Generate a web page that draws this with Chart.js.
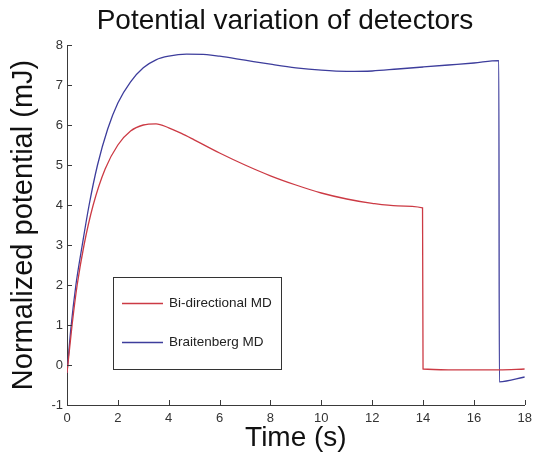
<!DOCTYPE html>
<html>
<head>
<meta charset="utf-8">
<script src="https://cdn.jsdelivr.net/npm/chart.js@4/dist/chart.umd.min.js"></script>
<style>
  html, body { margin: 0; padding: 0; background: #fff; }
</style>
</head>
<body>
<canvas id="resultado" width="538" height="461"></canvas>
<script>
// datos
const titulo = 'Potential variation of detectors'
const tituloX = 'Time (s)'
const tituloY = 'Normalized potential (mJ)'

const nombres = ['Bi-directional MD', 'Braitenberg MD']

const tiempoBi = [0, 0.2, 0.4, 0.67, 1.03, 1.5, 2, 2.5, 3, 3.5, 4, 4.5, 5, 6, 7, 8, 9, 10, 11, 12, 13, 13.98, 14, 15, 16, 17, 18]
const valoresBi = [-0.2, 1.0, 2.0, 3.0, 4.0, 4.9, 5.5, 5.85, 6.0, 6.03, 5.93, 5.79, 5.63, 5.3, 5.0, 4.73, 4.5, 4.3, 4.15, 4.04, 3.98, 3.93, -0.1, -0.12, -0.12, -0.12, -0.1]

const tiempoBr = [0, 0.15, 0.35, 0.6, 0.87, 1.2, 1.6, 2, 2.5, 3, 3.5, 4, 4.7, 5.5, 6, 7, 8, 9, 10, 11, 12, 13, 14, 15, 16, 16.98, 17, 18]
const valoresBr = [-0.2, 0.9, 2.0, 3.0, 4.0, 5.0, 5.9, 6.55, 7.08, 7.43, 7.63, 7.72, 7.77, 7.76, 7.72, 7.62, 7.52, 7.43, 7.37, 7.34, 7.35, 7.4, 7.45, 7.5, 7.55, 7.61, -0.42, -0.3]

const colores = ['#cc3a44', '#3d3d9c']

const fuente = '"Liberation Sans", Arial, sans-serif'

function puntos(t, v) {
  return t.map((x, i) => ({x: x, y: v[i]}))
}

const tituloPlugin = {
  id: 'titulo',
  afterDraw(chart) {
    const ctx = chart.ctx
    ctx.save()
    ctx.font = '28px ' + fuente
    ctx.fillStyle = '#111'
    ctx.textAlign = 'center'
    ctx.textBaseline = 'alphabetic'
    ctx.fillText(titulo, 285, 29)
    ctx.restore()
  }
}

// marcas hacia adentro, estilo matlab
const marcasPlugin = {
  id: 'marcas',
  afterDraw(chart) {
    const {ctx, scales: {x, y}} = chart
    ctx.save()
    ctx.strokeStyle = '#3a3a3a'
    ctx.lineWidth = 1
    ctx.beginPath()
    x.ticks.forEach(t => {
      const px = Math.round(x.getPixelForValue(t.value)) + 0.5
      ctx.moveTo(px, y.bottom)
      ctx.lineTo(px, y.bottom - 5)
    })
    y.ticks.forEach(t => {
      const py = Math.round(y.getPixelForValue(t.value)) + 0.5
      ctx.moveTo(x.left, py)
      ctx.lineTo(x.left + 5, py)
    })
    ctx.stroke()
    ctx.restore()
  }
}

const leyendaPlugin = {
  id: 'leyenda',
  afterDatasetsDraw(chart) {
    const ctx = chart.ctx
    const caja = {x: 113.5, y: 277.5, w: 168, h: 92}
    const filas = [303, 342]
    ctx.save()
    ctx.fillStyle = '#fff'
    ctx.fillRect(caja.x, caja.y, caja.w, caja.h)
    ctx.strokeStyle = '#333'
    ctx.lineWidth = 1
    ctx.strokeRect(caja.x, caja.y, caja.w, caja.h)
    ctx.font = '13.5px ' + fuente
    ctx.textBaseline = 'middle'
    chart.data.datasets.forEach((ds, i) => {
      ctx.strokeStyle = ds.borderColor
      ctx.lineWidth = 1.3
      ctx.beginPath()
      ctx.moveTo(122, filas[i] + 0.5)
      ctx.lineTo(163, filas[i] + 0.5)
      ctx.stroke()
      ctx.fillStyle = '#222'
      ctx.fillText(ds.label, 169, filas[i])
    })
    ctx.restore()
  }
}

const config = {
  type: 'line',
  data: {
    datasets: [
      {
        label: nombres[0],
        data: puntos(tiempoBi, valoresBi),
        borderColor: colores[0],
        borderWidth: 1.3,
        pointRadius: 0,
        cubicInterpolationMode: 'monotone'
      },
      {
        label: nombres[1],
        data: puntos(tiempoBr, valoresBr),
        borderColor: colores[1],
        borderWidth: 1.3,
        pointRadius: 0,
        cubicInterpolationMode: 'monotone'
      }
    ]
  },
  options: {
    responsive: false,
    animation: false,
    layout: {
      padding: {left: 0, right: 13, top: 45, bottom: 0}
    },
    plugins: {
      legend: {display: false},
      title: {display: false},
      tooltip: {enabled: false}
    },
    scales: {
      x: {
        type: 'linear',
        min: 0,
        max: 18,
        grid: {display: false, drawTicks: false},
        border: {display: true, color: '#3a3a3a', width: 1},
        ticks: {stepSize: 2, padding: 6, color: '#333', font: {size: 13, family: fuente}},
        title: {display: true, text: tituloX, color: '#111', font: {size: 28, family: fuente}, padding: {top: 0, bottom: 6}},
        afterFit(scale) { scale.height = 56 }
      },
      y: {
        type: 'linear',
        min: -1,
        max: 8,
        grid: {display: false, drawTicks: false},
        border: {display: true, color: '#3a3a3a', width: 1},
        ticks: {stepSize: 1, padding: 4, color: '#333', font: {size: 13, family: fuente}},
        title: {display: true, text: tituloY, color: '#111', font: {size: 29, family: fuente}, padding: {top: 7, bottom: 0}},
        afterFit(scale) { scale.width = 67 }
      }
    }
  },
  plugins: [tituloPlugin, marcasPlugin, leyendaPlugin]
}

let myChart = new Chart(document.getElementById('resultado'), config)
</script>
</body>
</html>
